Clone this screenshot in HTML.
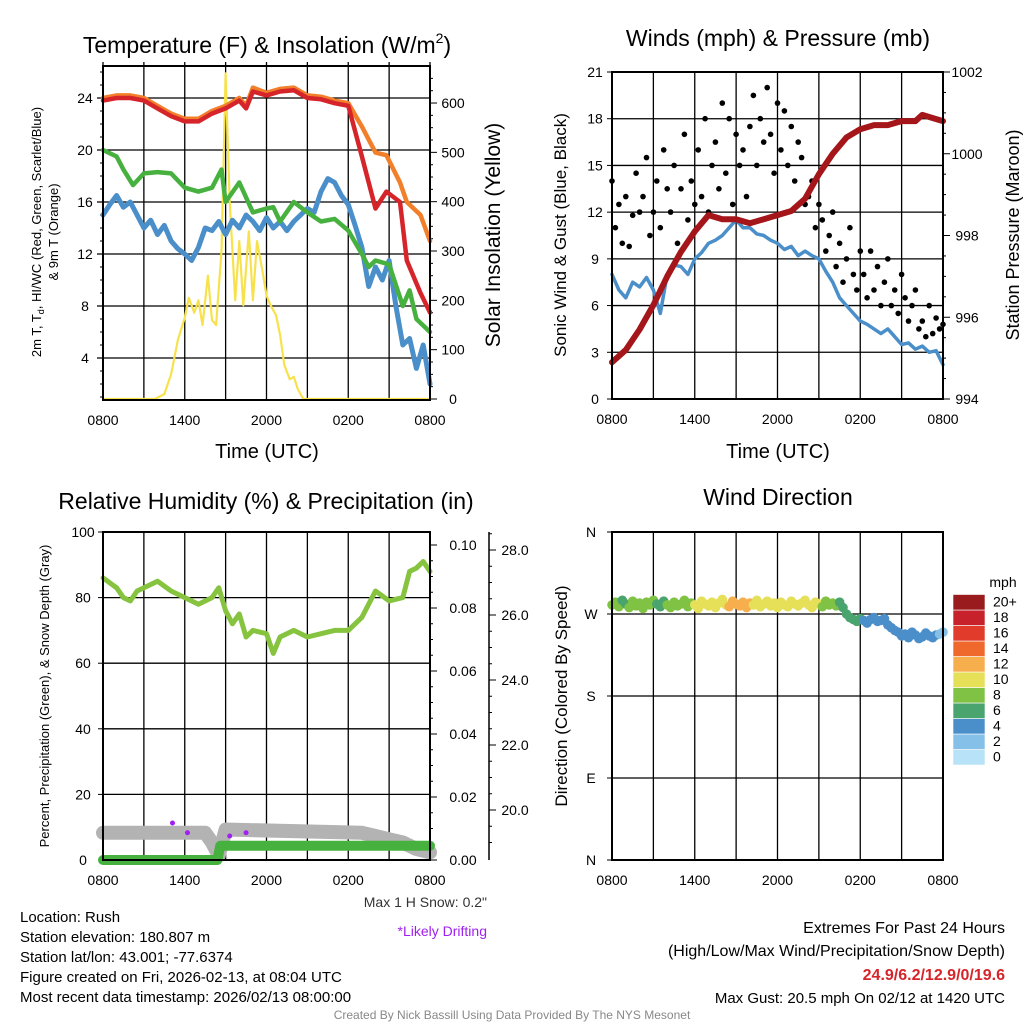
<!DOCTYPE html>
<html><head><meta charset="utf-8">
<style>
html,body{margin:0;padding:0;background:#fff}
svg{display:block;font-family:"Liberation Sans",sans-serif}
</style></head>
<body>
<svg id="c" width="1024" height="1024" viewBox="0 0 1024 1024"></svg>
<script>
// ---------- DATA ----------
const tempHours=[0,1,2,3,4,5,6,7,8,9,10,10.5,11,12,13,14,15,16,17,18,19,20,20.8,21.8,22.3,23.3,24];
const tempRed=[23.8,24,24,23.8,23.2,22.6,22.2,22.2,22.8,23.2,23.8,23.2,24.5,24.2,24.5,24.6,24,23.9,23.6,23.4,19.5,15.5,16.8,16,11.5,9,7.5];
const tempOrange=[24,24.2,24.2,24,23.4,22.8,22.4,22.4,23,23.4,24,23.4,24.8,24.4,24.7,24.8,24.2,24.1,23.8,23.6,21.8,19.8,19.6,17.5,16,15,13];
const dewHours=[0,1,1.5,2.2,3,4,5,6,7,8,8.7,9,10,11,12,12.5,13,14,15,16,17,18,19,19.5,20,21,22,22.5,23,23.5,24];
const dewGreen=[20,19.5,18.5,17.3,18.2,18.3,18.2,17.1,16.8,17.1,18.5,16,17.5,15.2,15.5,15.6,14.5,16,15.2,14.5,14.7,13.8,12,11,11.5,11.2,8,9.2,7,6.5,6];
const wcHours=[0,0.5,1,1.5,2,2.5,3,3.5,4,4.5,5,5.5,6,6.5,7,7.5,8,8.5,9,9.5,10,10.5,11,11.5,12,12.5,13,13.5,14,14.5,15,15.5,16,16.5,17,17.5,18,18.5,19,19.5,20,20.5,21,21.5,22,22.5,23,23.5,24];
const wcBlue=[15,15.8,16.5,15.6,16,15,14,14.6,13.5,14.2,13,12.4,12,11.5,12.5,14,13.8,14.5,13.5,14.6,14,15,14.5,13.8,14.8,14,14.5,13.8,14.5,15,15.5,15.2,16.8,17.8,17.5,16.5,15.8,14.2,12.5,9.5,11,10,11.5,8,5,5.5,3.2,5,2];
const solHours=[0,3.8,4.5,5,5.5,6,6.3,6.7,7,7.3,7.7,8,8.3,8.7,9,9.3,9.7,10,10.3,10.7,11,11.3,11.7,12,12.3,12.7,13,13.3,13.7,14,14.3,14.7,24];
const solar=[0,0,10,50,120,165,205,175,200,150,250,160,150,300,660,400,200,320,190,340,200,320,260,210,190,170,130,70,40,45,20,0,0];

const windHours=[0,0.5,1,1.5,2,2.5,3,3.5,4,4.5,5,5.5,6,6.5,7,7.5,8,8.5,9,9.5,10,10.5,11,11.5,12,12.5,13,13.5,14,14.5,15,15.5,16,16.5,17,17.5,18,18.5,19,19.5,20,20.5,21,21.5,22,22.5,23,23.5,24];
const windSpeed=[8,7,6.5,7.5,7.2,7.8,7,5.5,8,8.6,8.5,8,9,9.4,10,10.2,10.5,11,11.5,11,11,10.6,10.5,10.2,10,9.6,9.8,9.2,9.5,9.2,9,8.2,7.5,6.5,6,5.5,5,4.8,4.5,4.2,4.5,4,3.5,3.6,3.2,3.4,3,3.1,2.2];
const gusts=[14,11,12.5,10,13,9.8,11.8,14.5,12,13,15.5,10.5,12,14,11,16,13.5,12,15,10,13.5,17,11.5,14,12.5,16,13,18,12,15,16.5,13.5,19,14.5,18,12.5,17,15,16,13,17.5,19.5,15,18,16.5,20,17,14.5,19,16,18.5,15,17.5,14,16.5,15.5,12.5,13,14,11,12.5,11.5,9.5,10.5,12,8.5,10,7.5,9,11,8,7,9.5,8,6.5,9.5,7,8.5,6,7.5,9,6,7,5.5,8,6.5,5,6,7,4.5,5,4,6,4.2,5.2,4.5,4.8];
const presHours=[0,1,2,3,4,5,6,7,8,9,10,11,12,13,14,15,16,17,18,19,20,21,22,22.5,23,24];
const pressure=[994.9,995.2,995.7,996.3,997.0,997.6,998.1,998.5,998.4,998.4,998.3,998.4,998.5,998.6,998.9,999.5,1000.0,1000.4,1000.6,1000.7,1000.7,1000.8,1000.8,1000.95,1000.9,1000.8];

const rhHours=[0,1,1.5,2,2.5,3,4,5,6,7,8,8.5,9,9.5,10,10.5,11,12,12.5,13,14,15,16,17,18,19,20,21,22,22.5,23,23.5,24];
const rh=[86,83,80,79,82,83,85,82,80,78,80,83,76,72,75,68,70,69,63,68,70,68,69,70,70,74,82,79,80,88,89,91,88];
const snowHours=[0,7.5,8,8.5,9,19,20,21,22,23,24];
const snowDepth=[19.3,19.3,19.0,18.6,19.4,19.3,19.2,19.1,19.0,18.8,18.7];
const precipHours=[0,8.4,8.6,24];
const precip=[0,0,0.0045,0.0045];
const driftHours=[5.1,6.2,9.3,10.5];
const driftDepth=[19.6,19.3,19.2,19.3];

const dirHours=[];for(let i=0;i<=96;i++)dirHours.push(i/4);
const windDir=[280,283,278,285,281,277,284,279,282,276,283,280,285,281,278,284,280,277,283,279,281,285,278,282,280,276,284,281,279,283,277,282,286,280,278,284,281,279,283,277,282,280,285,278,281,284,279,282,277,283,280,278,284,281,279,282,285,280,277,283,281,278,284,280,282,279,283,277,270,266,264,262,265,263,260,264,266,262,263,265,258,255,252,250,246,248,244,250,247,243,245,249,246,244,247,248,250];
const cbLabels=["0","2","4","6","8","10","12","14","16","18","20+"];
const cbColors=["#b7e2f7","#84c0e8","#4b8fca","#4aa46e","#80c244","#e6df58","#f7ae4c","#f0692c","#e03b2b","#c7212b","#9a1b1d"];

// ---------- HELPERS ----------
const NS="http://www.w3.org/2000/svg";
const svg=document.getElementById('c');
function mk(tag,attrs,parent){const e=document.createElementNS(NS,tag);for(const k in attrs)e.setAttribute(k,attrs[k]);(parent||svg).appendChild(e);return e;}
function txt(s,x,y,size,opt,parent){opt=opt||{};const t=mk('text',{x:x,y:y,'font-size':size,'text-anchor':opt.anchor||'middle',fill:opt.fill||'#000'},parent);if(opt.weight)t.setAttribute('font-weight',opt.weight);if(opt.rot)t.setAttribute('transform','rotate(-90 '+x+' '+y+')');t.textContent=s;return t;}
function interp(xs,ys,x){for(let i=1;i<xs.length;i++){if(x<=xs[i]){const f=(x-xs[i-1])/(xs[i]-xs[i-1]);return ys[i-1]+f*(ys[i]-ys[i-1]);}}return ys[ys.length-1];}
function panel(name,x0,x1,y0,y1){const g=mk('g',{},svg);return {g,x0,x1,y0,y1,sx:h=>x0+h*(x1-x0)/24};}
function xAxis(p,gridTop){
  const labs=["0800","1400","2000","0200","0800"];
  for(let i=0;i<=8;i++){const x=p.sx(i*3);mk('line',{x1:x,x2:x,y1:gridTop,y2:p.y1,stroke:'#000','stroke-width':1.3},p.g);}
  labs.forEach((l,i)=>{const t=txt(l,p.sx(i*6),p.y1+25,14,{},p.g);});
}
function frame(p){mk('rect',{x:p.x0,y:p.y0,width:p.x1-p.x0,height:p.y1-p.y0,fill:'none',stroke:'#000','stroke-width':2},p.g);}
function path(p,xs,ys,fx,fy,col,w,name){let d='';xs.forEach((h,i)=>{d+=(i?'L':'M')+fx(h).toFixed(1)+' '+fy(ys[i]).toFixed(1);});const e=mk('path',{d:d,fill:'none',stroke:col,'stroke-width':w,'stroke-linejoin':'round','stroke-linecap':'round'},p.g);return e;}
function speedColor(v){const i=Math.max(0,Math.min(10,Math.round(v/2)));return cbColors[i];}

// ---------- PANEL 1 ----------
const p1=panel('temperature-panel',103,430,66,400);
const yT=v=>410-v*13, yS=v=>399-v*0.4933;
for(let v=4;v<=24;v+=4){mk('line',{x1:p1.x0-6,x2:p1.x1,y1:yT(v),y2:yT(v),stroke:'#000','stroke-width':1.3},p1.g);txt(String(v),p1.x0-18,yT(v)+5,14,{},p1.g);}
for(let v=1;v<=26;v++){mk('line',{x1:p1.x0-3,x2:p1.x0,y1:yT(v),y2:yT(v),stroke:'#000'},p1.g);}
for(let v=0;v<=650;v+=25){const l=v%100==0?7:3;mk('line',{x1:p1.x1,x2:p1.x1+l,y1:yS(v),y2:yS(v),stroke:'#000'},p1.g);}
for(let v=0;v<=600;v+=100)txt(String(v),p1.x1+23,yS(v)+5,14,{},p1.g);
xAxis(p1,62);
path(p1,solHours,solar,p1.sx,yS,'#f7e24e',2.2,'insolation-line');
path(p1,wcHours,wcBlue,p1.sx,yT,'#4a8fc9',5,'windchill-line');
path(p1,dewHours,dewGreen,p1.sx,yT,'#47b13f',4.5,'dewpoint-line');
path(p1,tempHours,tempOrange,p1.sx,yT,'#f27f2a',4.5,'temp-9m-line');
path(p1,tempHours,tempRed,p1.sx,yT,'#d6252a',4.5,'temp-2m-line');
frame(p1);
const t1=txt('',267,53,23,{},p1.g);


t1.innerHTML='Temperature (F) &amp; Insolation (W/m<tspan font-size="14" dy="-10">2</tspan><tspan dy="10">)</tspan>';
const yl=txt('',41,232,13,{rot:1},p1.g);


yl.innerHTML='2m T, T<tspan font-size="9" dy="3">d</tspan><tspan dy="-3">, HI/WC (Red, Green, Scarlet/Blue)</tspan>';
txt('& 9m T (Orange)',58,232,13,{rot:1},p1.g);
txt('Solar Insolation (Yellow)',500,235,21,{rot:1},p1.g);
txt('Time (UTC)',267,458,20,{},p1.g);

// ---------- PANEL 2 ----------
const p2=panel('wind-panel',612,943,72,399);
const yW=v=>399-v*327/21, yP=v=>399-(v-994)*327/8;
for(let v=3;v<=18;v+=3)mk('line',{x1:p2.x0,x2:p2.x1,y1:yW(v),y2:yW(v),stroke:'#000','stroke-width':1.3},p2.g);
for(let v=0;v<=21;v+=3){mk('line',{x1:p2.x0-5,x2:p2.x0,y1:yW(v),y2:yW(v),stroke:'#000'},p2.g);txt(String(v),p2.x0-17,yW(v)+5,14,{},p2.g);}
for(let v=994;v<=1002;v+=0.5){mk('line',{x1:p2.x1,x2:p2.x1+(v%2==0?7:3),y1:yP(v),y2:yP(v),stroke:'#000'},p2.g);}
for(let v=994;v<=1002;v+=2)txt(String(v),p2.x1+24,yP(v)+5,14,{},p2.g);
xAxis(p2,72);
path(p2,windHours,windSpeed,p2.sx,yW,'#4a8fc9',3.5,'sonic-wind-line');
gusts.forEach((g,i)=>{const c=mk('circle',{cx:p2.sx(i*0.25).toFixed(1),cy:yW(g).toFixed(1),r:2.8,fill:'#000'},p2.g);

});
path(p2,presHours,pressure,p2.sx,yP,'#a4161a',6,'pressure-line');
frame(p2);
txt('Winds (mph) & Pressure (mb)',778,46,23,{},p2.g);
txt('Sonic Wind & Gust (Blue, Black)',566,235,17,{rot:1},p2.g);
txt('Station Pressure (Maroon)',1019,235,18,{rot:1},p2.g);
txt('Time (UTC)',778,458,20,{},p2.g);

// ---------- PANEL 3 ----------
const p3=panel('humidity-panel',103,430,532,860);
const yR=v=>860-v*3.28, yPr=v=>860-v*3150, yD=v=>810-(v-20)*32.5;
for(let v=20;v<=80;v+=20)mk('line',{x1:p3.x0,x2:p3.x1,y1:yR(v),y2:yR(v),stroke:'#000','stroke-width':1.3},p3.g);
for(let v=0;v<=100;v+=20){mk('line',{x1:p3.x0-5,x2:p3.x0,y1:yR(v),y2:yR(v),stroke:'#000'},p3.g);txt(String(v),p3.x0-20,yR(v)+5,14,{},p3.g);}
for(let v=0;v<=0.104;v+=0.005){mk('line',{x1:p3.x1,x2:p3.x1+(Math.round(v*1000)%20==0?7:3),y1:yPr(v),y2:yPr(v),stroke:'#000'},p3.g);}
for(let v=0;v<=0.1001;v+=0.02)txt(v.toFixed(2),p3.x1+33,yPr(v)+5,14,{},p3.g);
mk('line',{x1:489,x2:489,y1:532,y2:860,stroke:'#000','stroke-width':1.5},p3.g);
for(let v=19;v<=28.5;v+=0.5){mk('line',{x1:489,x2:489+(v%2==0?7:3),y1:yD(v),y2:yD(v),stroke:'#000'},p3.g);}
for(let v=20;v<=28;v+=2)txt(v.toFixed(1),515,yD(v)+5,14,{},p3.g);
xAxis(p3,532);
path(p3,snowHours,snowDepth,p3.sx,yD,'#b3b3b3',14,'snow-depth-line');
path(p3,precipHours,precip,p3.sx,yPr,'#47b13f',10,'precip-line');
driftHours.forEach((h,i)=>{const c=mk('circle',{cx:p3.sx(h),cy:yD(driftDepth[i]),r:2.5,fill:'#a020f0'},p3.g);

});
path(p3,rhHours,rh,p3.sx,yR,'#86c440',5,'rh-line');
frame(p3);
txt('Relative Humidity (%) & Precipitation (in)',266,509,23,{},p3.g);
txt('Percent, Precipitation (Green), & Snow Depth (Gray)',49,696,13,{rot:1},p3.g);
txt('Max 1 H Snow: 0.2"',487,907,14,{anchor:'end',fill:'#333'},p3.g);
txt('*Likely Drifting',487,936,14,{anchor:'end',fill:'#a020f0'},p3.g);

// ---------- PANEL 4 ----------
const p4=panel('wind-direction-panel',612,943,532,860);
const yDir=v=>860-v*328/360;
const dirLabels=["N","E","S","W","N"];
dirLabels.forEach((l,i)=>{const y=yDir(i*90);if(i>0&&i<4)mk('line',{x1:p4.x0,x2:p4.x1,y1:y,y2:y,stroke:'#000','stroke-width':1.3},p4.g);mk('line',{x1:p4.x0-5,x2:p4.x0,y1:y,y2:y,stroke:'#000'},p4.g);txt(l,p4.x0-21,y+5,14,{},p4.g);});
xAxis(p4,532);
windDir.forEach((d,i)=>{const h=dirHours[i];const c=mk('circle',{cx:p4.sx(h).toFixed(1),cy:yDir(d).toFixed(1),r:4.8,fill:speedColor(interp(windHours,windSpeed,h))},p4.g);

});
frame(p4);
txt('Wind Direction',778,505,23,{},p4.g);
txt('Direction (Colored By Speed)',567,696,17,{rot:1},p4.g);
// colorbar
const cb=mk('g',{},svg);
txt('mph',1003,587,14,{},cb);
cbColors.forEach((c,i)=>{const y=765-(i+1)*15.5;mk('rect',{x:953,y:y,width:32,height:15.5,fill:c,stroke:'#fff','stroke-width':0.6},cb);txt(cbLabels[i],993,y+12,14,{anchor:'start'},cb);});

// ---------- FOOTER ----------
const ft=mk('g',{},svg);
["Location: Rush","Station elevation: 180.807 m","Station lat/lon: 43.001; -77.6374","Figure created on Fri, 2026-02-13, at 08:04 UTC","Most recent data timestamp: 2026/02/13 08:00:00"].forEach((s,i)=>txt(s,20,922+i*20,15,{anchor:'start'},ft));
txt('Extremes For Past 24 Hours',1005,933,16,{anchor:'end'},ft);
txt('(High/Low/Max Wind/Precipitation/Snow Depth)',1005,956,16,{anchor:'end'},ft);
txt('24.9/6.2/12.9/0/19.6',1005,980,16,{anchor:'end',fill:'#d6252a',weight:'bold'},ft);
txt('Max Gust: 20.5 mph On 02/12 at 1420 UTC',1005,1003,15,{anchor:'end'},ft);
txt('Created By Nick Bassill Using Data Provided By The NYS Mesonet',512,1019,12,{fill:'#888'},ft);
</script>
</body></html>
